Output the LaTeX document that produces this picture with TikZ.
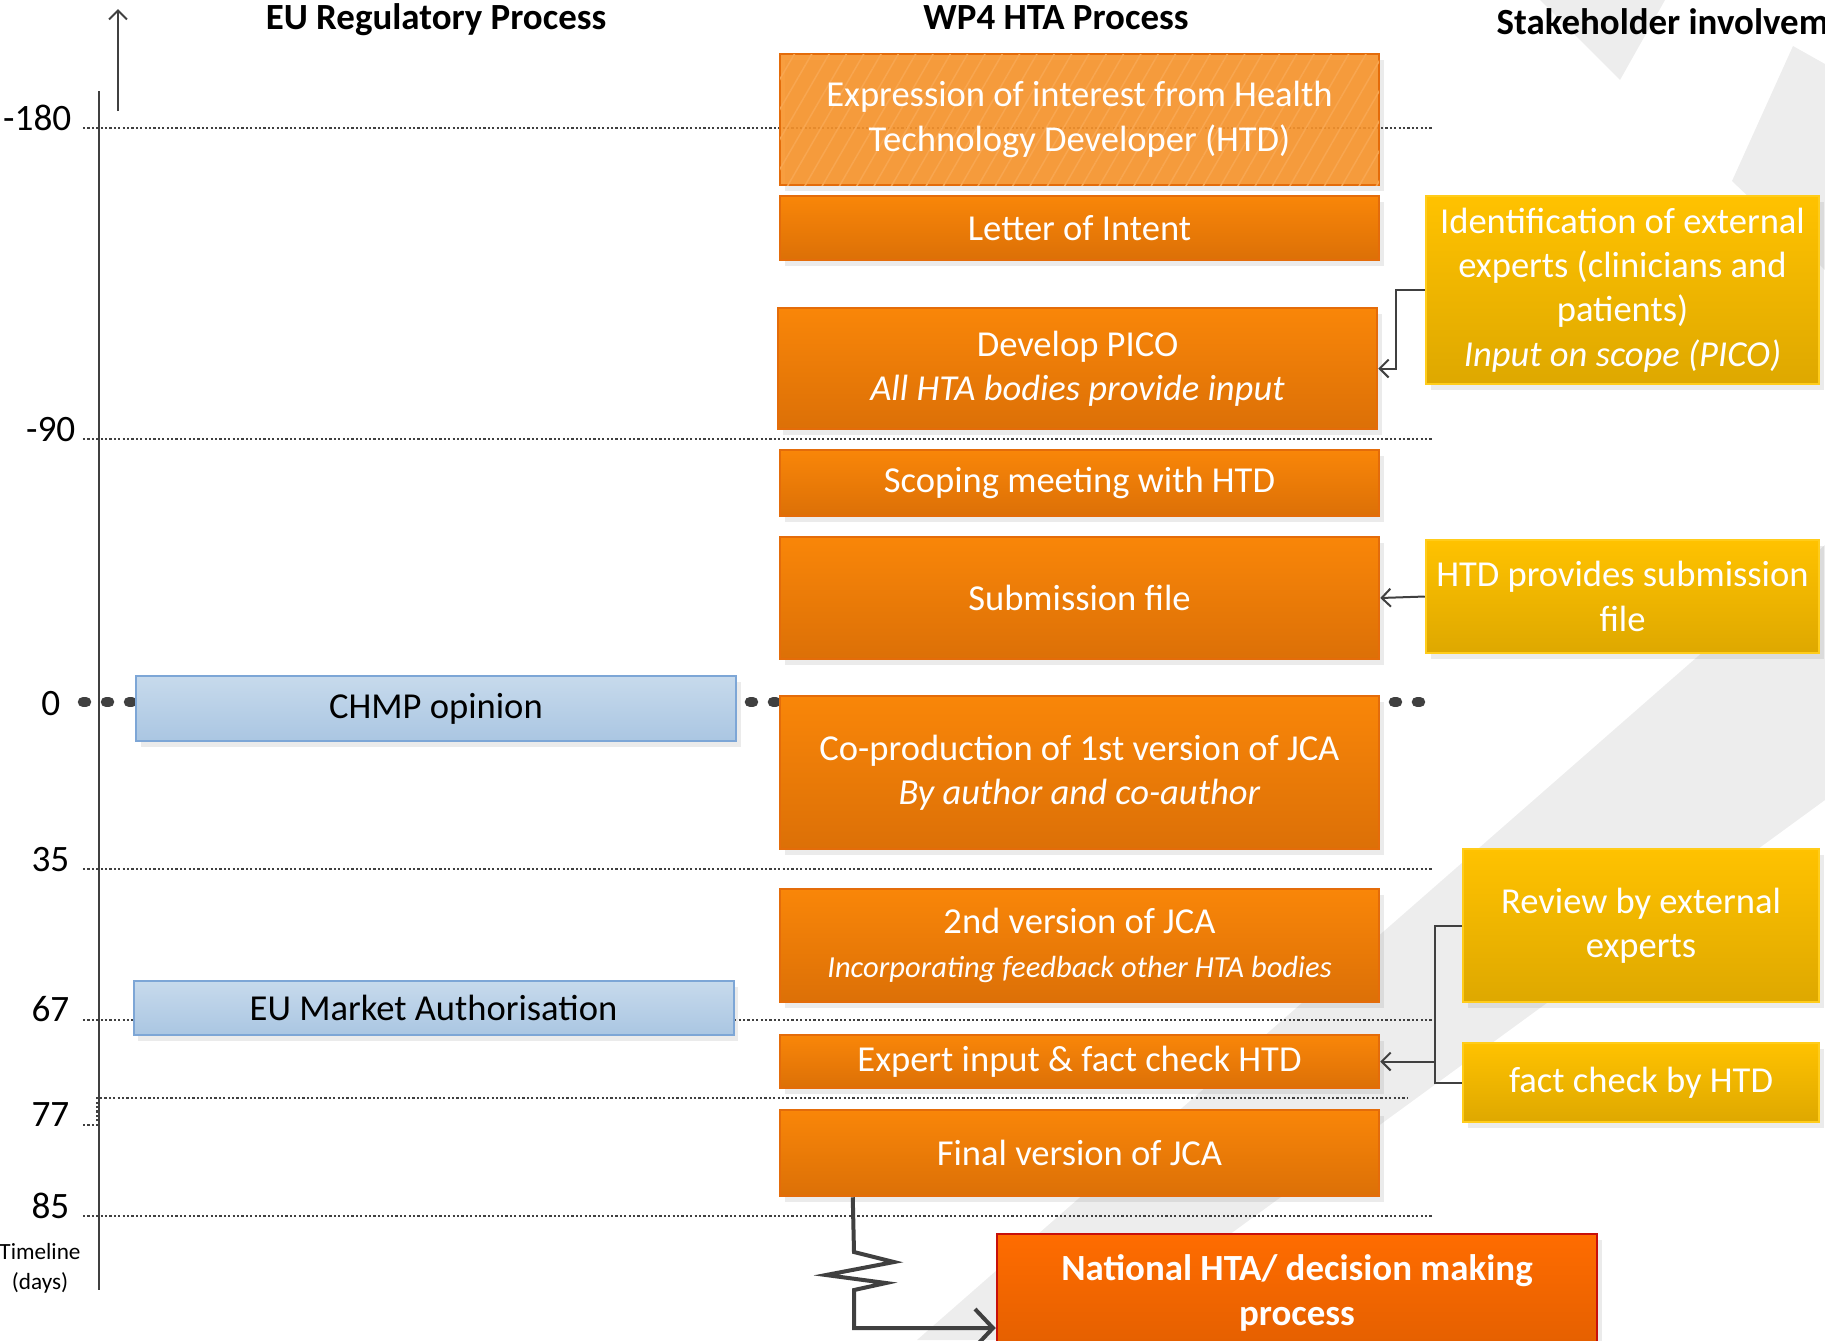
\documentclass[tikz,border=0pt]{standalone}
\usepackage{fontspec}
\setmainfont{Carlito}
\usetikzlibrary{arrows.meta,shadows,patterns.meta}

\definecolor{wptop}{HTML}{F98608}
\definecolor{wpbot}{HTML}{DC7007}
\definecolor{wpline}{HTML}{E46C0A}
\definecolor{eoi}{HTML}{F7932A}
\definecolor{shtop}{HTML}{FFC200}
\definecolor{shbot}{HTML}{DEA800}
\definecolor{shline}{HTML}{FFCC1A}
\definecolor{eutop}{HTML}{C7DAEC}
\definecolor{eubot}{HTML}{AAC6E2}
\definecolor{euline}{HTML}{7DA6D6}
\definecolor{natop}{HTML}{FF6C00}
\definecolor{nabot}{HTML}{E35F00}
\definecolor{naline}{HTML}{C8100A}
\definecolor{ink}{HTML}{404040}
\definecolor{wmgray}{HTML}{EDEDED}

\begin{document}
\begin{tikzpicture}[x=0.1mm, y=-0.1mm, >={Straight Barb[length=0.9mm,width=1.8mm]},
  box/.style={rectangle, inner sep=2pt, align=center, text=white,
    font=\fontsize{10.4}{12.6}\selectfont,
    drop shadow={shadow xshift=0.45mm, shadow yshift=-0.55mm, opacity=0.16}},
  wp/.style={box, draw=wpline, line width=0.25mm, top color=wptop, bottom color=wpbot, minimum width=59.9mm},
  sh/.style={box, draw=shline, line width=0.25mm, top color=shtop, bottom color=shbot},
  eu/.style={box, draw=euline, line width=0.2mm, top color=eutop, bottom color=eubot, text=black, minimum width=60mm},
  tick/.style={draw=ink, line width=0.22mm, dash pattern=on 0.22mm off 0.22mm},
  tl/.style={anchor=base east, inner sep=0pt, font=\fontsize{10.6}{12}\selectfont},
  hd/.style={anchor=base, font=\bfseries\fontsize{10.5}{12}\selectfont},
  link/.style={draw=ink, line width=0.2mm}]
  \useasboundingbox (0,0) rectangle (1825,1340);
  \clip (0,0) rectangle (1825,1340);

  \fill[wmgray] (1540,0) -- (1665,0) -- (1620,80) -- cycle;
  \fill[wmgray] (1793,46) -- (1825,64) -- (1825,270) -- (1732,181) -- cycle;
  \fill[wmgray] (1825,545) -- (1825,800) -- (1085,1340) -- (917,1340) -- cycle;

  \node[hd] (hreg) at (436,29) {EU Regulatory Process};
  \node[hd] (hwp) at (1056,29) {WP4 HTA Process};
  \node[hd, anchor=base west, inner sep=0pt] (hsh) at (1496,34) {Stakeholder involvement};

  \draw[ink, line width=0.25mm] (99,91) -- (99,1290);
  \draw[->, ink, line width=0.2mm] (118,111) -- (118,9);

  \node[tl] (t180) at (72,130) {-180};
  \node[tl] (t90) at (76,441) {-90};
  \node[tl] (t0) at (61,715) {0};
  \node[tl] (t35) at (70,871) {35};
  \node[tl] (t67) at (70,1021) {67};
  \node[tl] (t77) at (70,1126) {77};
  \node[tl] (t85) at (70,1218) {85};
  \node[align=center, font=\fontsize{6.6}{8.6}\selectfont] (tday) at (40,1268) {Timeline\\(days)};

  \draw[tick] (83,128) -- (1432,128);
  \draw[tick] (83,439) -- (1432,439);
  \draw[tick] (83,869) -- (1432,869);
  \draw[tick] (83,1020) -- (1432,1020);
  \draw[tick] (83,1125) -| (97,1098) -- (1408,1098);
  \draw[tick] (83,1216) -- (1432,1216);
  \draw[ink, line width=1.05mm, line cap=round, dash pattern=on 0.3mm off 2mm] (83,702) -- (1420,702);

  \node[box, draw=wpline, line width=0.25mm, fill=eoi, fill opacity=0.9, text opacity=1,
    minimum width=59.9mm, minimum height=13.1mm,
    postaction={pattern={Lines[angle=60,distance=1.5mm,line width=0.15mm]}, pattern color=eoi!82!white}]
    (expr) at (1079.5,119.5) {Expression of interest from Health\\Technology Developer (HTD)};
  \node[wp, minimum height=6.4mm] (loi) at (1079.5,228) {Letter of Intent};
  \node[wp, minimum height=12.1mm] (pico) at (1077.5,368.5) {Develop PICO\\\textit{All HTA bodies provide input}};
  \node[wp, minimum height=6.6mm] (scope) at (1079.5,483) {Scoping meeting with HTD};
  \node[wp, minimum height=12.2mm] (subm) at (1079.5,598) {Submission file};
  \node[wp, minimum height=15.3mm] (coprod) at (1079.5,772.5) {Co-production of 1st version of JCA\\\textit{By author and co-author}};
  \node[wp, minimum height=11.3mm] (second) at (1079.5,945.5) {2nd version of JCA\\{\fontsize{8.7}{10}\selectfont\itshape Incorporating feedback other HTA bodies}};
  \node[wp, minimum height=5.3mm] (expert) at (1079.5,1061.5) {Expert input \& fact check HTD};
  \node[wp, minimum height=8.6mm] (final) at (1079.5,1153) {Final version of JCA};
  \node[box, draw=naline, line width=0.25mm, top color=natop, bottom color=nabot, minimum width=60mm, minimum height=11.8mm,
    font=\bfseries\fontsize{10.5}{13}\selectfont] (national) at (1297,1293) {National HTA/ decision making\\process};

  \node[eu, minimum height=6.5mm] (chmp) at (436,708.5) {CHMP opinion};
  \node[eu, minimum height=5.4mm] (euma) at (433.5,1008) {EU Market Authorisation};

  \node[sh, minimum width=39.3mm, minimum height=18.8mm] (ident) at (1622.5,290) {Identification of external\\experts (clinicians and\\patients)\\\textit{Input on scope (PICO)}};
  \node[sh, minimum width=39.3mm, minimum height=11.3mm] (htdsub) at (1622.5,596.5) {HTD provides submission\\file};
  \node[sh, minimum width=35.6mm, minimum height=15.3mm] (review) at (1641,925.5) {Review by external\\experts};
  \node[sh, minimum width=35.6mm, minimum height=7.9mm] (factchk) at (1641,1082.5) {fact check by HTD};

  \coordinate (fork) at (1435,1061.5);
  \draw[link, ->] (ident.west) -- ++(-29,0) |- (pico.east);
  \draw[link, ->] (htdsub.west) -- (subm.east);
  \draw[link] (review.west) -| (fork);
  \draw[link] (factchk.west) -| (fork);
  \draw[link, ->] (fork) -- (expert.east);
  \draw[ink, line width=0.4mm, -{Straight Barb[length=1.8mm,width=3.8mm]}]
    ([xshift=7.4mm]final.south west) -- (854,1252) -- (894,1262) -- (826,1275) -- (886,1283) -- (854,1290)
    |- ([yshift=-3.5mm]national.west);
\end{tikzpicture}
\end{document}
